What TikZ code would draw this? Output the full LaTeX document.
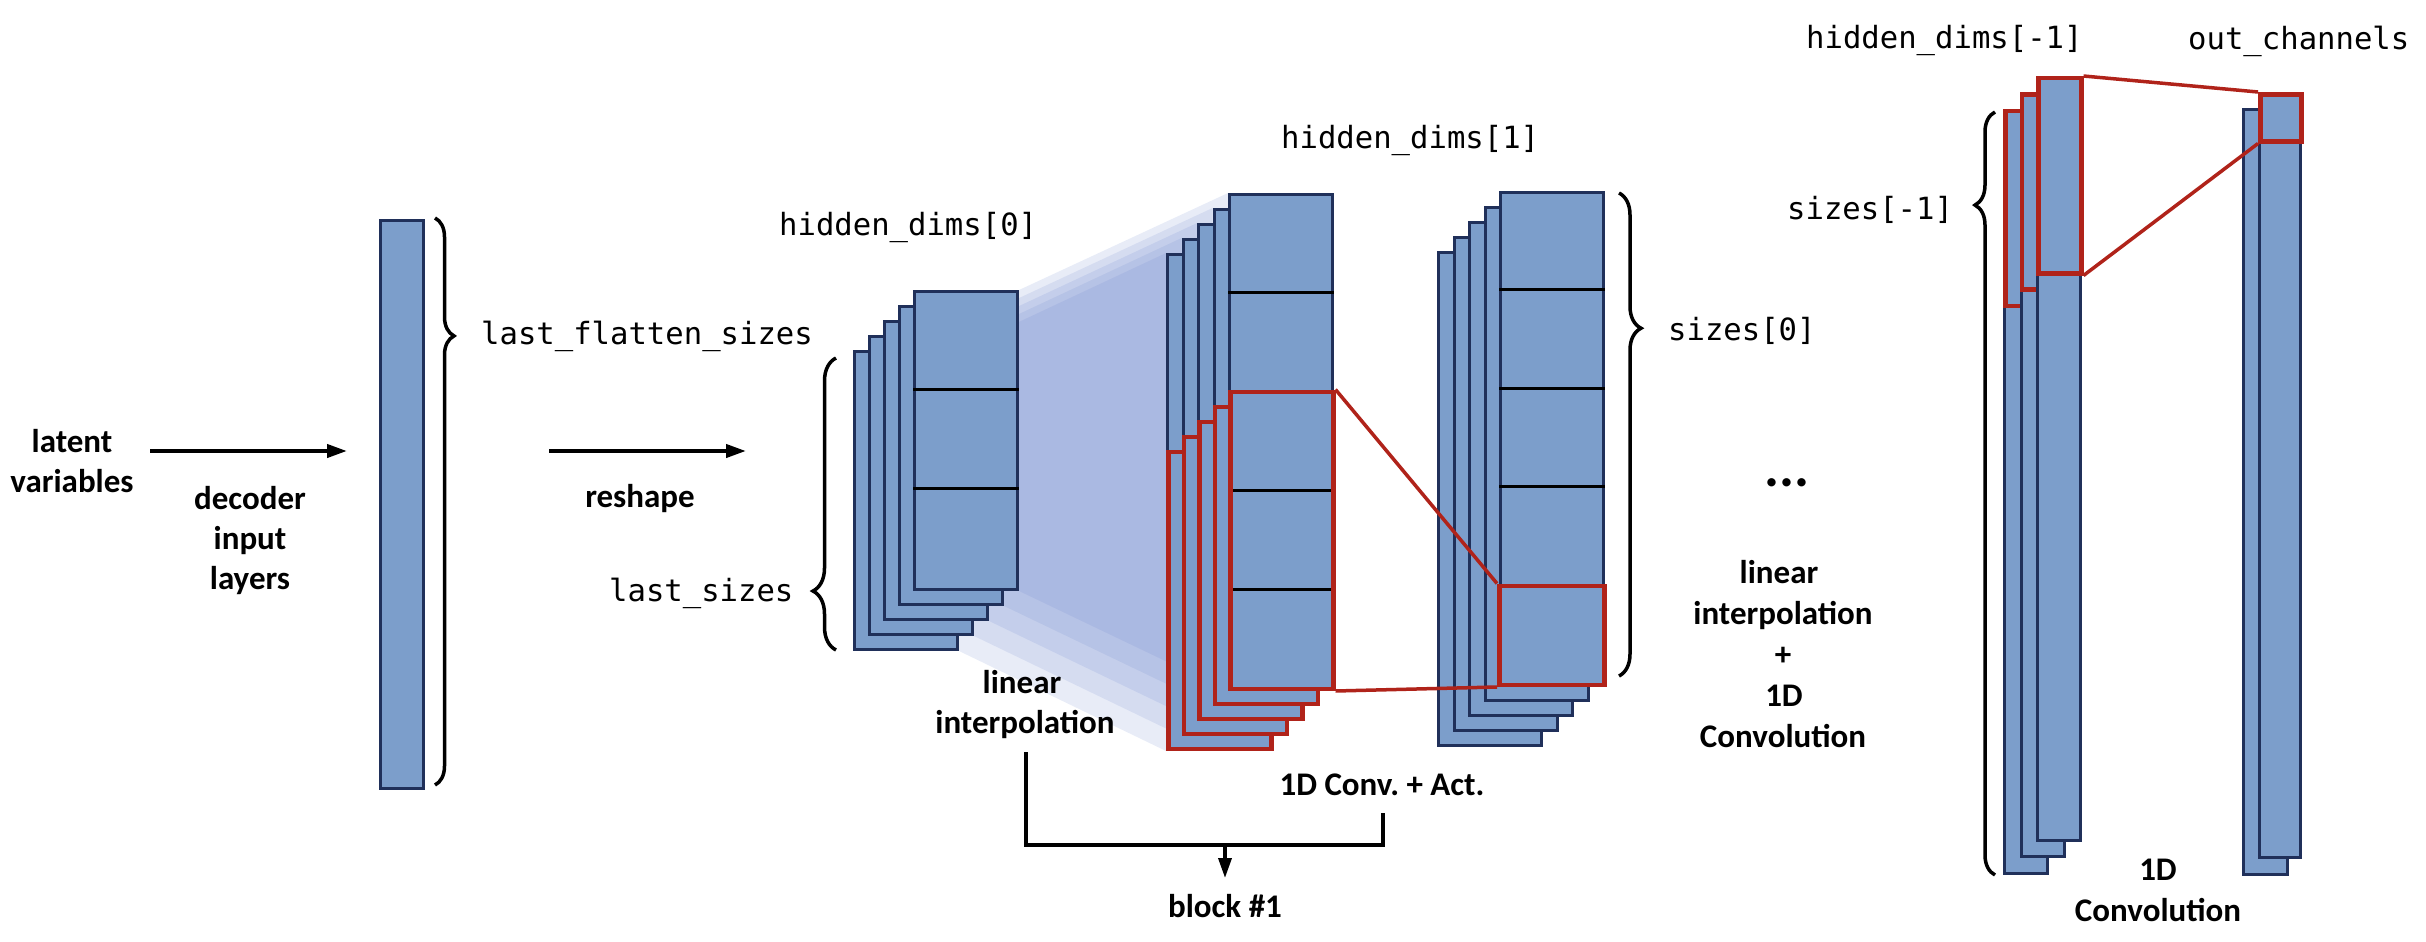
\documentclass[tikz,border=0pt]{standalone}
\usepackage{fontspec}
\setmainfont{Carlito}
\newfontfamily\monofont{DejaVu Sans Mono}
\usetikzlibrary{arrows.meta,decorations.pathreplacing}
\pgfdeclarelayer{background}
\pgfsetlayers{background,main}
\definecolor{boxfill}{RGB}{124,158,203}
\definecolor{boxline}{RGB}{32,48,90}
\definecolor{hired}{RGB}{176,35,26}
\definecolor{fanblue}{RGB}{102,128,202}
\frenchspacing
\begin{document}
\begin{tikzpicture}[x=1pt,y=-1pt,
  layer/.style={draw=boxline, fill=boxfill, line width=3pt, inner sep=0pt, anchor=north west},
  redbox/.style={draw=hired, line width=4.5pt, inner sep=0pt},
  redline/.style={draw=hired, line width=3.5pt},
  cellline/.style={draw=black, line width=3pt},
  fan/.style={fill=fanblue, fill opacity=0.15},
  lbl/.style={font=\fontsize{33}{40}\selectfont\bfseries, inner sep=0pt, anchor=base},
  code/.style={font=\monofont\fontsize{30.6}{36}\selectfont, inner sep=0pt, anchor=base west},
  arr/.style={line width=4pt, -{Triangle[length=20pt,width=13pt]}},
  conn/.style={line width=3.5pt},
  brc/.style 2 args={decorate, line width=3.5pt, decoration={brace, amplitude=#1, aspect=#2}},
]
\useasboundingbox (0,0) rectangle (2426,942);

% ---------- left part ----------
\node[lbl] (lat1) at (72,452) {latent};
\node[lbl] (lat2) at (72,492) {variables};
\coordinate (a1s) at (150,451);
\coordinate (a1e) at (347,451);
\draw[arr] (a1s) -- (a1e);
\node[lbl] (dec1) at (250,509) {decoder};
\node[lbl] (dec2) at (250,549) {input};
\node[lbl] (dec3) at (250,589) {layers};

\node[layer, minimum width=43pt, minimum height=568pt] (bar) at (379,219) {};
\draw[brc={19pt}{0.208}] (435,218) -- (435,785);
\node[code] (lfs) at (481,344) {last\_flatten\_sizes};

\coordinate (a2s) at (549,451);
\coordinate (a2e) at (746,451);
\draw[arr] (a2s) -- (a2e);
\node[lbl] (resh) at (640,507) {reshape};
\node[code] (ls) at (609,601) {last\_sizes};
\draw[brc={23pt}{0.202}] (836,650) -- (836,358);

% ---------- stack 1 : hidden_dims[0] ----------
\node[code] (hd0) at (779,235) {hidden\_dims[0]};
\foreach \k in {4,3,2,1,0}{
  \node[layer, minimum width=103pt, minimum height=298pt] (s1-\k) at ({913-15*\k},{290+15*\k}) {};
}
\draw[cellline] ([yshift=-99.3pt]s1-0.north west) -- ([yshift=-99.3pt]s1-0.north east);
\draw[cellline] ([yshift=-198.7pt]s1-0.north west) -- ([yshift=-198.7pt]s1-0.north east);

% ---------- stack 2 : hidden_dims[1] ----------
\node[code] (hd1) at (1281,148) {hidden\_dims[1]};
\foreach \k in {4,3,2,1,0}{
  \node[layer, minimum width=103pt, minimum height=495pt] (s2-\k) at ({1228-15.5*\k},{193+15*\k}) {};
  \node[redbox, anchor=south west, minimum width=103pt, minimum height=297pt] (r2-\k) at (s2-\k.south west) {};
}
\foreach \d in {99,198,297,396}{
  \draw[cellline] ([yshift=-\d pt]s2-0.north west) -- ([yshift=-\d pt]s2-0.north east);
}
\node[redbox, anchor=south west, minimum width=103pt, minimum height=297pt] (r2-0) at (s2-0.south west) {};

% fans between stack 1 and stack 2
\begin{pgfonlayer}{background}
\foreach \k in {0,...,4}{
  \fill[fan] (s1-\k.north east) -- (s2-\k.north west) -- (s2-\k.south west) -- (s1-\k.south east) -- cycle;
}
\end{pgfonlayer}

\node[lbl] (li1) at (1022,693) {linear};
\node[lbl] (li2) at (1025,733) {interpolation};
\node[lbl] (cva) at (1382,795) {1D Conv. + Act.};

% block bracket
\coordinate (bl) at (1026,752);
\coordinate (bl2) at (1026,845);
\coordinate (br2) at (1383,845);
\coordinate (br) at (1383,813);
\coordinate (bm) at (1225,845);
\coordinate (bme) at (1225,878);
\draw[conn] (bl) -- (bl2) -- (br2) -- (br);
\draw[arr, line width=3.5pt] (bm) -- (bme);
\node[lbl] (blk) at (1225,917) {block \#1};

% ---------- stack 3 : sizes[0] ----------
\foreach \k in {4,3,2,1,0}{
  \node[layer, minimum width=103pt, minimum height=493pt] (s3-\k) at ({1499-15.5*\k},{191+15*\k}) {};
}
\foreach \d in {98.6,197.2,295.8,394.4}{
  \draw[cellline] ([yshift=-\d pt]s3-0.north west) -- ([yshift=-\d pt]s3-0.north east);
}
\node[redbox, anchor=south west, minimum width=105pt, minimum height=99pt] (r3) at ([xshift=-2pt]s3-0.south west) {};
\draw[redline] (r2-0.north east) -- (r3.north west);
\draw[redline] (r2-0.south east) -- (r3.south west);
\draw[brc={22pt}{0.28}] (1619,193) -- (1619,676);
\node[code] (sz0) at (1668,340) {sizes[0]};

% ---------- middle text ----------
\node[lbl, font=\fontsize{56}{56}\selectfont\bfseries] (dots) at (1787,486) {...};
\node[lbl] (mi1) at (1779,583) {linear};
\node[lbl] (mi2) at (1783,624) {interpolation};
\node[lbl] (mi3) at (1783,665) {+};
\node[lbl] (mi4) at (1784,706) {1D};
\node[lbl] (mi5) at (1783,747) {Convolution};

% ---------- last stack : hidden_dims[-1] ----------
\node[code] (hdl) at (1806,49) {hidden\_dims[-1]};
\foreach \k in {2,1,0}{
  \node[layer, minimum width=43pt, minimum height=763pt] (sL-\k) at ({2036-16.5*\k},{76+16.3*\k}) {};
  \node[redbox, anchor=north west, minimum width=43pt, minimum height=195pt] (rL-\k) at (sL-\k.north west) {};
}
\draw[brc={20pt}{0.878}] (1995,875) -- (1995,112);
\node[code] (szl) at (1787,219) {sizes[-1]};

% ---------- output ----------
\node[code] (oc) at (2188,50) {out\_channels};
\node[layer, minimum width=44pt, minimum height=765pt] (o-1) at (2242,108) {};
\node[layer, minimum width=41pt, minimum height=764pt] (o-0) at (2258,92) {};
\node[redbox, anchor=north west, minimum width=41pt, minimum height=47pt] (rO) at (o-0.north west) {};
\draw[redline] (rL-0.north east) -- (rO.north west);
\draw[redline] (rL-0.south east) -- (rO.south west);
\node[lbl] (oc1) at (2158,880) {1D};
\node[lbl] (oc2) at (2158,921) {Convolution};
\end{tikzpicture}
\end{document}
